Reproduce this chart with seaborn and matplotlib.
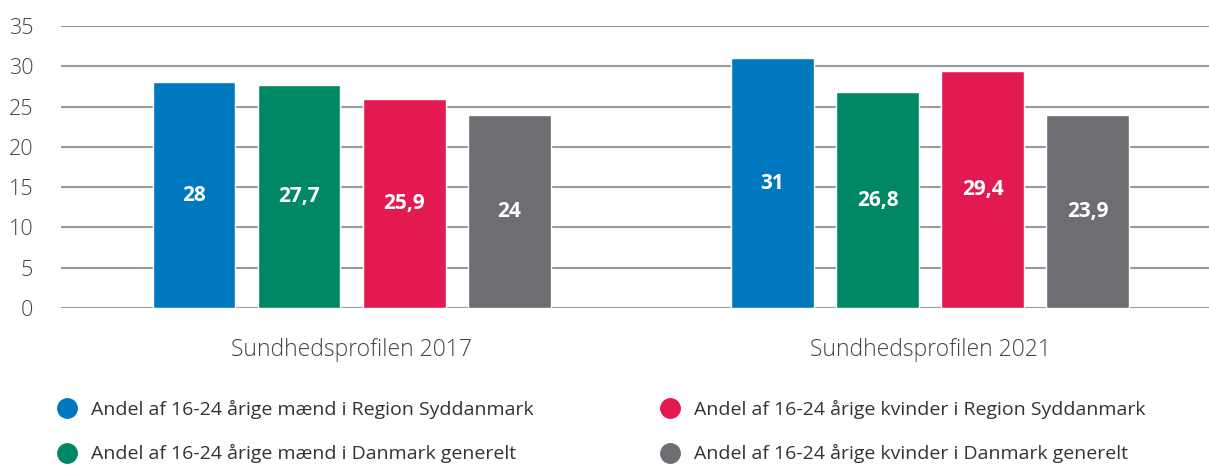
import pandas as pd
import matplotlib.pyplot as plt
from matplotlib.lines import Line2D
import seaborn as sns

# data
surveys = ['Sundhedsprofilen 2017', 'Sundhedsprofilen 2021']
groups = ['Andel af 16-24 årige mænd i Region Syddanmark',
          'Andel af 16-24 årige mænd i Danmark generelt',
          'Andel af 16-24 årige kvinder i Region Syddanmark',
          'Andel af 16-24 årige kvinder i Danmark generelt']
values_2017 = [28, 27.7, 25.9, 24]
values_2021 = [31, 26.8, 29.4, 23.9]
colors = ['#0078BF', '#008763', '#E31A51', '#6D6E71']

rows = []
for survey, vals in zip(surveys, [values_2017, values_2021]):
    for g, v in zip(groups, vals):
        rows.append({'survey': survey, 'group': g, 'value': v})
df = pd.DataFrame(rows)

sns.set_style('white')
plt.rcParams['font.family'] = ['Open Sans', 'DejaVu Sans']

fig = plt.figure(figsize=(12.09, 4.68), dpi=100)
ax = fig.add_axes([0.0505, 0.342, 0.9495, 0.6024])

sns.barplot(data=df, x='survey', y='value', hue='group', hue_order=groups,
            palette=colors, width=0.726, gap=0.21, saturation=1,
            legend=False, ax=ax, zorder=3)

for cont in ax.containers:
    ax.bar_label(cont, labels=[f'{v:g}'.replace('.', ',') for v in cont.datavalues],
                 label_type='center', color='white', fontweight='bold', fontsize=15)

ax.set_ylim(0, 35)
ax.set_yticks(range(0, 36, 5))
ax.set_xlim(-0.502, 1.482)
ax.yaxis.grid(True, color='#9a9a9a', linewidth=1.5, zorder=0)
ax.set_axisbelow(True)
for s in ax.spines.values():
    s.set_visible(False)
ax.tick_params(axis='y', length=0, labelsize=15.5, labelcolor='#444444', pad=20)
ax.tick_params(axis='x', length=0, labelsize=16.5, labelcolor='#444444', pad=22)
for lbl in ax.get_yticklabels() + ax.get_xticklabels():
    lbl.set_fontweight('light')
ax.set_xlabel('')
ax.set_ylabel('')

handles = [Line2D([], [], marker='o', linestyle='', markersize=14,
                  markerfacecolor=c, markeredgecolor=c) for c in colors]
fig.legend(handles, groups,
           ncol=2, loc='upper left', bbox_to_anchor=(0.047, 0.145),
           frameon=False, fontsize=14, labelcolor='#333333',
           handletextpad=0.75, columnspacing=6.5, labelspacing=1.3,
           borderaxespad=0, borderpad=0, handlelength=1.0)

fig.savefig('out.png', dpi=100)
